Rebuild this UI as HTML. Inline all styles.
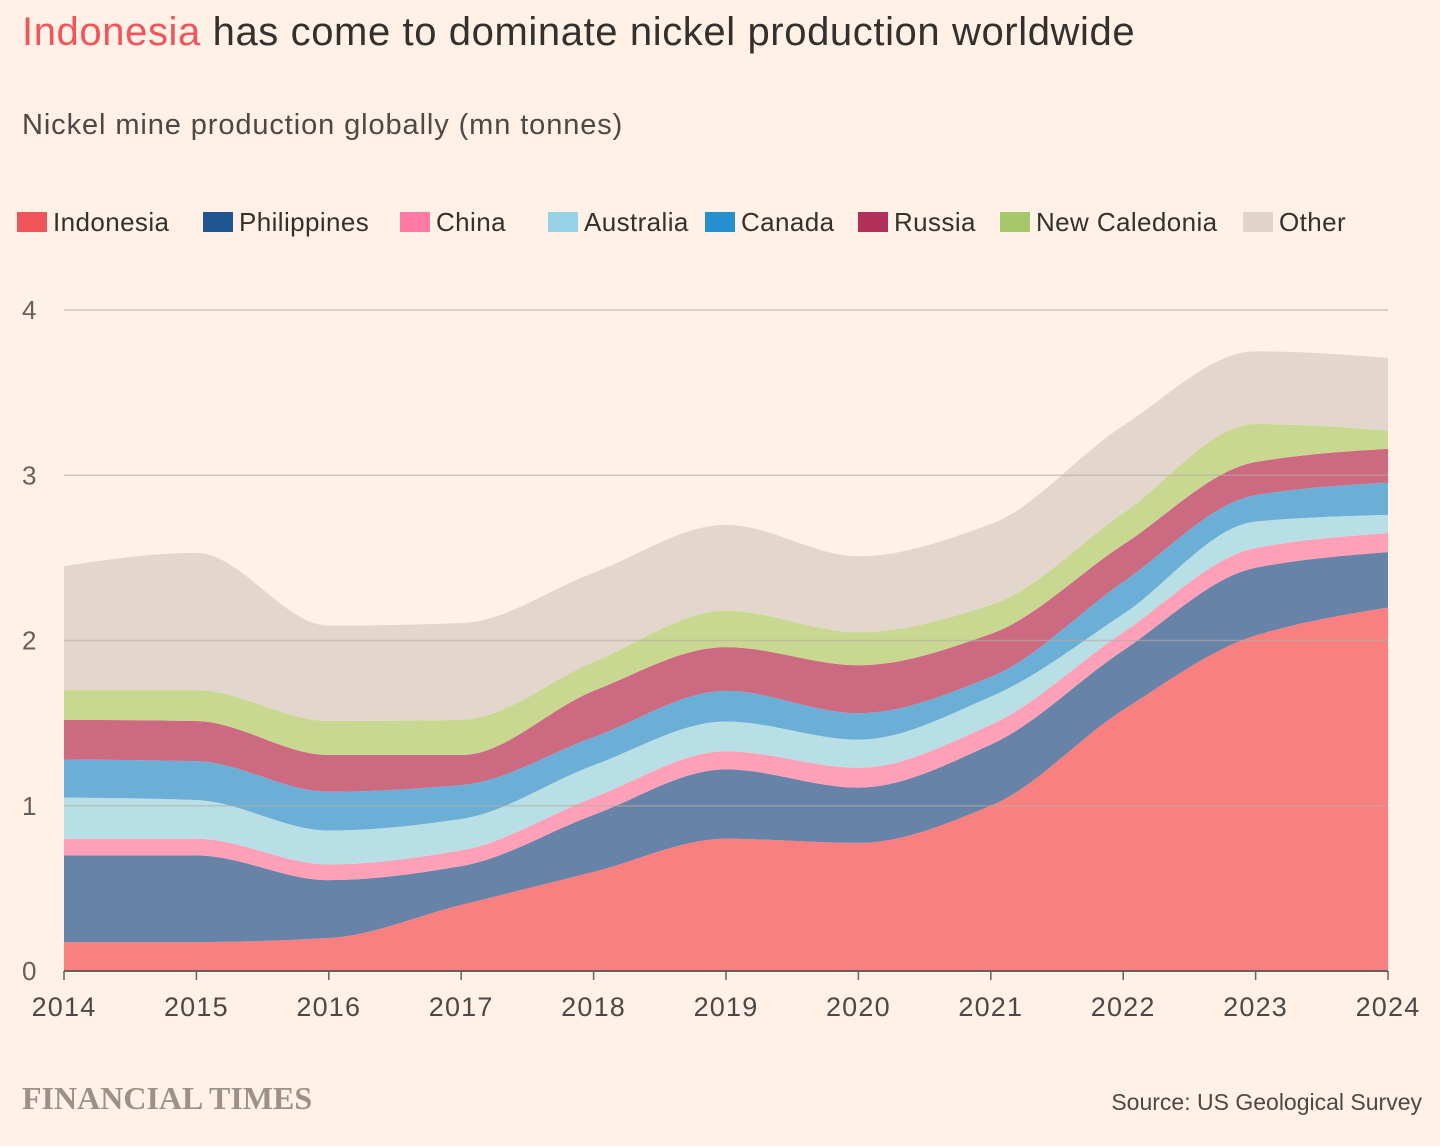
<!DOCTYPE html>
<html><head><meta charset="utf-8"><style>
body{margin:0;background:#fff1e5;font-family:"Liberation Sans",sans-serif;}
#wrap{position:relative;width:1440px;height:1146px;overflow:hidden;background:#fff1e5;}
.t{position:absolute;white-space:nowrap;color:#33302e;}
.leg{position:absolute;top:208px;height:28px;display:flex;align-items:center;font-size:26px;letter-spacing:0.4px;color:#33302e;}
.sw{width:30px;height:20px;margin-right:6px;display:inline-block;}
</style></head><body>
<div id="wrap">
<div class="t" style="left:22px;top:10px;font-size:40px;letter-spacing:0.6px"><span style="color:#f2545b">Indonesia</span> has come to dominate nickel production worldwide</div>
<div class="t" style="left:22px;top:109px;font-size:29px;letter-spacing:0.9px;color:#4d4845">Nickel mine production globally (mn tonnes)</div>
<div id="legend"></div>
<svg id="chart" width="1440" height="1146" style="position:absolute;left:0;top:0"></svg>
<div class="t" style="left:22px;top:1080px;font-size:32px;font-weight:bold;font-family:'Liberation Serif',serif;color:#9a928a">FINANCIAL TIMES</div>
<div class="t" style="right:18px;top:1089px;font-size:23px;color:#4d4845">Source: US Geological Survey</div>
</div>
<script>
const years=[2014,2015,2016,2017,2018,2019,2020,2021,2022,2023,2024];
const seriesNames=["Indonesia","Philippines","China","Australia","Canada","Russia","New Caledonia","Other"];
const indonesia=[0.175,0.175,0.2,0.4,0.6,0.8,0.775,1.0,1.58,2.03,2.2];
const philippines=[0.525,0.525,0.35,0.235,0.345,0.42,0.335,0.37,0.36,0.41,0.335];
const china=[0.1,0.1,0.095,0.095,0.105,0.11,0.12,0.12,0.11,0.12,0.115];
const australia=[0.25,0.235,0.205,0.19,0.195,0.18,0.17,0.17,0.11,0.16,0.11];
const canada=[0.23,0.235,0.235,0.205,0.17,0.185,0.16,0.12,0.195,0.16,0.195];
const russia=[0.24,0.243,0.222,0.182,0.28,0.265,0.29,0.26,0.225,0.2,0.205];
const newCaledonia=[0.18,0.187,0.206,0.213,0.175,0.22,0.2,0.175,0.19,0.23,0.11];
const other=[0.75,0.83,0.577,0.585,0.54,0.52,0.46,0.49,0.53,0.44,0.44];
const yTicks=[0,1,2,3,4];
const allSeries=[indonesia,philippines,china,australia,canada,russia,newCaledonia,other];
const fills=["#f88080","#6883a8","#fea0b8","#b8dfe6","#6cafd6","#cc6a82","#c9d891","#e3d6cc"];
const swatches=["#f2545b","#1f5591","#ff7aa4","#96d1e5","#2490d0","#b0305a","#a7c86a","#e0d3ca"];
const X0=64,X1=1388,Y0=971,Y4=310;
const xs=y=>X0+(y-years[0])/(years[years.length-1]-years[0])*(X1-X0);
const ys=v=>Y0-v/4*(Y0-Y4);
const NS="http://www.w3.org/2000/svg";
const svg=document.getElementById('chart');
function el(t,a){const e=document.createElementNS(NS,t);for(const k in a)e.setAttribute(k,a[k]);svg.appendChild(e);return e;}
function mono(px,py){const n=px.length,d=[],m=[];for(let i=0;i<n-1;i++)d.push((py[i+1]-py[i])/(px[i+1]-px[i]));
for(let i=1;i<n-1;i++){m[i]=0;if(d[i-1]*d[i]>0){const h0=px[i]-px[i-1],h1=px[i+1]-px[i];m[i]=(3*(h0+h1))/((2*h1+h0)/d[i-1]+(h1+2*h0)/d[i]);}}
m[0]=(3*d[0]-m[1])/2;m[n-1]=(3*d[n-2]-m[n-2])/2;
let s="";for(let i=0;i<n-1;i++){const h=(px[i+1]-px[i])/3;s+=` C${px[i]+h},${py[i]+m[i]*h} ${px[i+1]-h},${py[i+1]-m[i+1]*h} ${px[i+1]},${py[i+1]}`;}return s;}
const px=years.map(xs);
let base=years.map(()=>0);
allSeries.forEach((s,k)=>{
  const top=base.map((b,i)=>b+s[i]);
  const ty=top.map(ys),by=base.map(ys);
  const rpx=px.slice().reverse(),rby=by.slice().reverse();
  const d=`M${px[0]},${ty[0]}`+mono(px,ty)+` L${rpx[0]},${rby[0]}`+mono(rpx,rby)+"Z";
  const p=el('path',{d:d,fill:fills[k]});
  
  
  base=top;
});
yTicks.forEach(v=>{
  const g=el('line',{x1:64,x2:1388,y1:ys(v),y2:ys(v),stroke:v===0?'#66605c':'#b8aca4','stroke-width':v===0?2:1.5,'stroke-opacity':v===0?1:0.6});
  
  
  const t=el('text',{x:22,y:ys(v)+9,'font-size':26,fill:'#66605c','font-family':'Liberation Sans, sans-serif'});
  t.textContent=v;
  
  
});
years.forEach(y=>{
  const l=el('line',{x1:xs(y),x2:xs(y),y1:971,y2:980,stroke:'#66605c','stroke-width':1.5});
  
  
  const t=el('text',{x:xs(y),y:1016,'font-size':27,'letter-spacing':1.2,fill:'#4d4845','text-anchor':'middle','font-family':'Liberation Sans, sans-serif'});
  t.textContent=y;
  
  
});
const legPos=[17,203,400,548,705,858,1000,1243];
const lg=document.getElementById('legend');
seriesNames.forEach((n,i)=>{
  const d=document.createElement('div');d.className='leg';d.style.left=legPos[i]+'px';
  
  
  d.innerHTML=`<span class="sw" style="background:${swatches[i]}"></span>${n}`;
  lg.appendChild(d);
});
</script>
</body></html>
